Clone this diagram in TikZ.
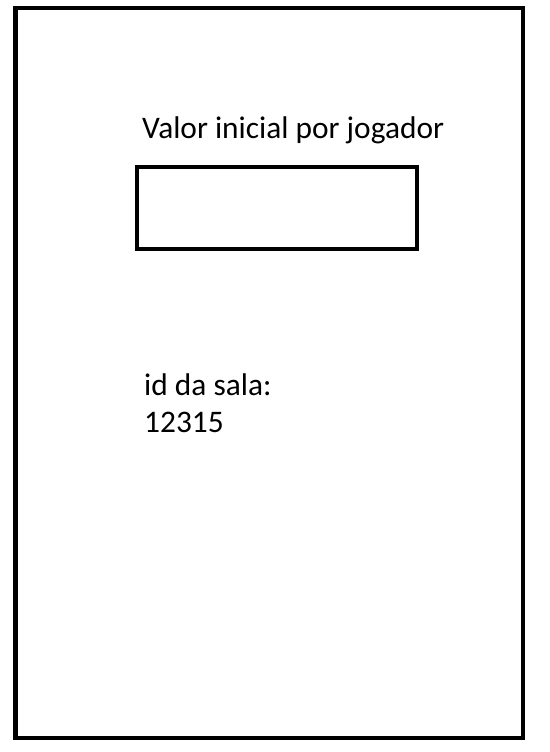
\documentclass[tikz,border=0pt]{standalone}
\usepackage{fontspec}
\setmainfont{Carlito}
\begin{document}
\begin{tikzpicture}[x=1bp,y=-1bp,
  frame/.style={draw=black,line width=4.8bp},
  lbl/.style={anchor=base west,inner sep=0pt,font=\fontsize{31.5}{37}\selectfont}]
\useasboundingbox (0,0) rectangle (550,752);
\fill[white] (0,0) rectangle (550,752);
\node[frame,minimum width=507.5bp,minimum height=730bp,inner sep=0pt] (outer) at (269.25,373) {};
\node[frame,minimum width=280bp,minimum height=82bp,inner sep=0pt] (input) at (277,208) {};
\node[lbl] (title) at (142,138) {Valor inicial por jogador};
\node[lbl] (id) at (144,395) {id da sala:};
\node[lbl] (num) at (144,432) {12315};
\end{tikzpicture}
\end{document}
